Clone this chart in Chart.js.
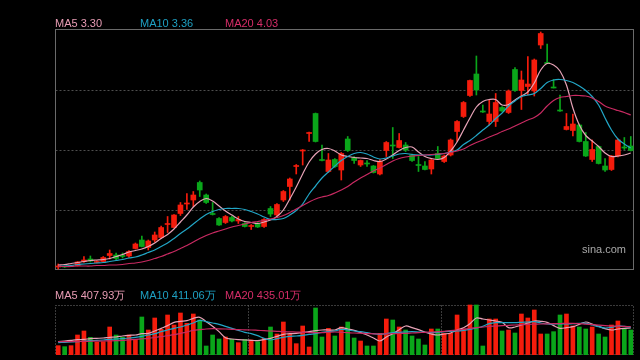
<!DOCTYPE html>
<html>
<head>
<meta charset="utf-8">
<script src="https://cdn.jsdelivr.net/npm/chart.js@4.4.1/dist/chart.umd.min.js"></script>
<style>
html,body{margin:0;padding:0;background:#000;}
#wrap{position:relative;width:640px;height:360px;background:#000;overflow:hidden;}
canvas{position:absolute;left:0;top:0;}
.lbl{position:absolute;font-family:"Liberation Sans",Arial,sans-serif;font-size:11px;line-height:11px;white-space:nowrap;}
</style>
</head>
<body>
<div id="wrap">
<canvas id="kChart" width="640" height="360"></canvas>
<div class="lbl" style="left:55px;top:18px;color:#e89cb4">MA5 3.30</div>
<div class="lbl" style="left:140px;top:18px;color:#1ea0c2">MA10 3.36</div>
<div class="lbl" style="left:225px;top:18px;color:#d62d68">MA20 4.03</div>
<div class="lbl" style="left:55px;top:290px;color:#e89cb4">MA5 407.93万</div>
<div class="lbl" style="left:140px;top:290px;color:#1ea0c2">MA10 411.06万</div>
<div class="lbl" style="left:225px;top:290px;color:#d62d68">MA20 435.01万</div>
<div class="lbl" style="left:582px;top:244px;color:#a8a8a8">sina.com</div>
</div>
<script>
// daily candles (price), oldest first
var open = [0.96,0.97,0.98,0.99,1.07,1.12,1.05,1.07,1.19,1.20,
  1.19,1.18,1.33,1.50,1.35,1.50,1.55,1.81,1.75,2.03,
  2.22,2.30,2.65,2.40,2.03,1.93,1.85,1.95,1.88,1.83,
  1.77,1.83,1.77,2.13,2.00,2.30,2.57,2.97,3.28,3.63,
  4.03,3.11,2.87,3.11,2.90,3.52,3.15,3.00,3.04,2.98,
  2.82,3.29,3.40,3.35,3.40,3.20,3.01,2.98,2.92,3.23,
  3.07,3.20,3.67,3.97,4.39,4.82,4.08,3.87,3.87,4.15,
  4.05,4.91,4.49,4.57,4.48,5.40,5.05,4.56,4.10,3.71,
  3.69,3.80,3.47,3.11,3.37,2.98,2.91,3.18,3.36,3.38];
var close = [0.98,0.96,0.99,1.06,1.10,1.08,1.07,1.15,1.23,1.13,
  1.17,1.27,1.42,1.37,1.48,1.60,1.75,1.83,2.00,2.20,
  2.24,2.40,2.50,2.25,2.01,1.80,1.97,1.88,1.91,1.77,
  1.79,1.76,1.91,2.02,2.21,2.47,2.72,2.99,3.30,3.65,
  3.47,3.09,3.10,2.97,3.23,3.29,3.09,3.09,3.02,2.85,
  3.07,3.45,3.38,3.49,3.30,3.09,2.99,2.91,3.10,3.13,
  3.18,3.50,3.87,4.25,4.69,4.50,4.06,4.02,4.25,4.08,
  4.48,4.49,4.70,4.62,5.10,5.63,5.03,4.54,4.08,3.77,
  3.82,3.47,3.18,3.31,3.03,2.90,3.18,3.50,3.34,3.29];
var high = [1.02,0.98,1.00,1.07,1.17,1.18,1.09,1.17,1.30,1.24,
  1.24,1.29,1.44,1.58,1.50,1.66,1.78,1.97,2.01,2.25,
  2.43,2.47,2.68,2.42,2.25,1.95,1.99,1.98,1.97,1.85,
  1.81,1.85,1.93,2.17,2.23,2.49,2.74,3.01,3.31,3.66,
  4.04,3.40,3.23,3.13,3.25,3.57,3.17,3.10,3.09,2.99,
  3.11,3.47,3.75,3.63,3.45,3.22,3.17,3.07,3.12,3.37,
  3.20,3.52,3.89,4.27,4.70,5.18,4.20,4.30,4.43,4.17,
  4.50,4.95,4.88,5.17,5.12,5.66,5.42,4.71,4.40,4.03,
  4.02,3.82,3.65,3.50,3.38,3.13,3.19,3.52,3.55,3.57];
var low = [0.92,0.95,0.97,0.98,1.05,1.06,1.04,1.06,1.12,1.10,
  1.14,1.15,1.32,1.36,1.30,1.46,1.53,1.65,1.74,1.99,
  2.11,2.17,2.37,2.23,2.00,1.79,1.83,1.86,1.83,1.76,
  1.71,1.75,1.75,1.97,1.98,2.27,2.30,2.82,3.00,3.47,
  3.46,3.08,2.85,2.95,2.70,3.27,3.03,2.97,2.97,2.84,
  2.80,3.17,3.13,3.34,3.27,3.07,2.87,2.90,2.82,3.12,
  3.05,3.18,3.47,3.95,4.37,4.40,4.05,3.80,3.77,4.07,
  4.03,4.47,4.11,4.40,4.38,5.33,5.03,4.54,4.07,3.70,
  3.58,3.46,3.17,3.07,3.02,2.87,2.89,3.16,3.31,3.28];

var ma5 = [1.00,1.01,1.03,1.05,1.07,1.09,1.10,1.11,1.13,1.17,
  1.21,1.26,1.29,1.32,1.37,1.44,1.53,1.61,1.72,1.86,
  2.00,2.16,2.27,2.33,2.28,2.18,2.08,2.00,1.92,1.87,
  1.85,1.83,1.86,1.90,1.97,2.10,2.32,2.56,2.82,3.06,
  3.22,3.31,3.33,3.28,3.20,3.17,3.15,3.14,3.13,3.09,
  3.07,3.12,3.20,3.29,3.35,3.36,3.26,3.17,3.13,3.11,
  3.15,3.28,3.46,3.70,3.94,4.16,4.27,4.31,4.31,4.20,
  4.21,4.30,4.38,4.46,4.64,4.90,5.03,5.00,4.88,4.60,
  4.14,3.80,3.59,3.48,3.37,3.24,3.17,3.18,3.20,3.24];
var ma10 = [0.97,0.98,0.99,1.01,1.02,1.03,1.04,1.05,1.07,1.09,
  1.11,1.14,1.16,1.20,1.25,1.30,1.37,1.44,1.53,1.63,
  1.72,1.82,1.92,2.01,2.07,2.11,2.13,2.13,2.13,2.11,
  2.07,2.02,1.96,1.91,1.91,1.93,2.00,2.09,2.22,2.42,
  2.58,2.74,2.86,2.98,3.09,3.17,3.23,3.25,3.22,3.16,
  3.12,3.14,3.18,3.22,3.23,3.21,3.20,3.20,3.20,3.21,
  3.23,3.26,3.30,3.41,3.49,3.59,3.70,3.80,3.93,4.04,
  4.18,4.28,4.37,4.40,4.43,4.53,4.65,4.70,4.71,4.69,
  4.65,4.58,4.49,4.37,4.20,3.94,3.70,3.52,3.42,3.34];
var ma20 = [0.97,0.97,0.97,0.98,0.98,0.98,0.99,0.99,1.00,1.00,
  1.01,1.03,1.04,1.06,1.09,1.13,1.17,1.22,1.27,1.33,
  1.39,1.46,1.53,1.59,1.64,1.68,1.72,1.76,1.79,1.82,
  1.85,1.87,1.89,1.92,1.95,1.99,2.05,2.12,2.19,2.26,
  2.32,2.36,2.39,2.44,2.50,2.57,2.66,2.74,2.81,2.88,
  2.94,3.01,3.08,3.13,3.16,3.18,3.19,3.20,3.21,3.22,
  3.23,3.25,3.28,3.32,3.39,3.45,3.50,3.56,3.61,3.67,
  3.72,3.78,3.84,3.90,3.95,4.04,4.18,4.29,4.35,4.37,
  4.39,4.39,4.38,4.34,4.27,4.18,4.13,4.09,4.05,4.00];

// volume in 万 shares
var volume = [140,125,140,300,360,265,190,200,420,300,
  265,300,235,570,375,555,385,600,450,630,
  475,615,525,135,300,240,270,235,185,235,
  225,200,250,420,315,495,315,170,435,120,
  705,270,400,285,420,495,255,210,135,135,
  325,540,525,420,375,285,240,150,390,390,
  325,325,600,390,750,750,135,540,540,360,
  375,330,615,555,675,315,315,350,600,615,
  435,420,390,420,315,270,450,510,390,375];
var vma5 = [200,210,220,230,235,245,250,255,265,270,
  285,295,300,320,325,360,400,440,490,505,
  515,550,565,500,430,350,260,240,230,225,
  220,215,230,250,280,310,320,325,340,350,
  365,375,375,375,410,390,370,335,300,255,
  210,270,320,380,435,410,380,345,315,300,
  315,330,375,410,470,555,540,525,510,490,
  410,420,450,480,510,505,490,440,400,410,
  425,460,495,465,430,395,375,390,400,405];
var vma10 = [185,190,195,200,210,215,220,225,235,240,
  245,255,265,280,300,320,350,375,400,420,
  450,480,520,500,480,460,430,400,370,340,
  320,290,250,225,245,265,280,285,295,310,
  320,340,350,360,385,375,360,350,335,320,
  310,320,335,340,345,350,345,340,335,340,
  350,355,360,370,385,405,430,470,485,485,
  485,485,490,495,500,480,465,465,465,465,
  470,475,475,450,425,405,415,435,430,415];
var vma20 = [200,200,202,204,205,206,208,210,212,215,
  220,228,235,242,250,262,275,290,305,325,
  345,370,380,390,395,393,390,385,380,378,
  375,370,365,360,355,350,347,344,340,337,
  335,335,340,345,340,335,330,327,322,318,
  315,318,320,323,325,330,335,340,345,350,
  355,365,375,385,400,410,420,430,435,440,
  445,450,455,460,462,465,468,470,472,474,
  475,470,462,455,447,440,435,432,428,425];

var priceGrid = [2.1, 3.3, 4.5];
var pricePanel = [0.9, 5.7];
var volPanel = [0, 750];
var monthStarts = [30, 60];

var days = open.map(function (v, i) { return 'd' + (i + 1); });

var UP = '#f51c0c', DOWN = '#0aa61a';
var candleColor = open.map(function (o, i) { return close[i] >= o ? UP : DOWN; });

var framePlugin = {
  id: 'frames',
  beforeDatasetsDraw: function (chart) {
    var ctx = chart.ctx, ca = chart.chartArea;
    var y = chart.scales.y, yv = chart.scales.yv, x = chart.scales.x;
    var L = Math.round(ca.left) + 0.5, R = Math.round(ca.right) - 0.5;
    ctx.save();
    ctx.lineWidth = 1;
    // price grid
    ctx.strokeStyle = '#4e4e4e';
    ctx.setLineDash([2, 2]);
    priceGrid.forEach(function (p) {
      var py = Math.round(y.getPixelForValue(p)) + 0.5;
      ctx.beginPath(); ctx.moveTo(L, py); ctx.lineTo(R, py); ctx.stroke();
    });
    // price frame
    ctx.setLineDash([]);
    ctx.strokeStyle = '#6a6a6a';
    var pt = Math.round(y.getPixelForValue(pricePanel[1])) - 0.5;
    var pb = Math.round(y.getPixelForValue(pricePanel[0])) - 0.5;
    ctx.strokeRect(L, pt, R - L, pb - pt);
    // volume frame
    ctx.strokeStyle = '#777';
    ctx.setLineDash([1, 2]);
    var vt = Math.round(yv.getPixelForValue(volPanel[1])) + 0.5;
    var vb = Math.round(yv.getPixelForValue(volPanel[0])) - 0.5;
    ctx.strokeRect(L, vt, R - L, vb - vt);
    monthStarts.forEach(function (m) {
      var mx = Math.round((x.getPixelForValue(m - 1) + x.getPixelForValue(m)) / 2) + 0.5;
      ctx.beginPath(); ctx.moveTo(mx, vt); ctx.lineTo(mx, vb); ctx.stroke();
    });
    ctx.restore();
  }
};

function maLine(data, color, axis) {
  return {
    type: 'line', data: data, yAxisID: axis, borderColor: color,
    borderWidth: 1.2, pointRadius: 0, tension: 0.35, fill: false, order: 0
  };
}

var ctx = document.getElementById('kChart').getContext('2d');
var chart = new Chart(ctx, {
  type: 'bar',
  data: {
    labels: days,
    datasets: [
      {
        data: low.map(function (l, i) { return [l, high[i]]; }),
        yAxisID: 'y', backgroundColor: candleColor,
        barThickness: 1, grouped: false, order: 3
      },
      {
        data: open.map(function (o, i) { return [o, close[i]]; }),
        yAxisID: 'y', backgroundColor: candleColor,
        barThickness: 5, grouped: false, order: 2
      },
      {
        data: volume,
        yAxisID: 'yv', backgroundColor: candleColor,
        barThickness: 4, grouped: false, order: 2
      },
      maLine(ma20, '#c92a62', 'y'),
      maLine(ma10, '#22a6c6', 'y'),
      maLine(ma5, '#e6a2b6', 'y'),
      maLine(vma20, '#c92a62', 'yv'),
      maLine(vma10, '#22a6c6', 'yv'),
      maLine(vma5, '#e6a2b6', 'yv')
    ]
  },
  options: {
    responsive: false,
    animation: false,
    devicePixelRatio: 1,
    layout: { padding: { left: 55, right: 6, top: 30, bottom: 5 } },
    plugins: { legend: { display: false }, tooltip: { enabled: false } },
    scales: {
      x: { display: false, offset: true },
      y: { display: false, min: -0.8, max: 5.7 },
      yv: { display: false, min: 0, max: 4875 }
    }
  },
  plugins: [framePlugin]
});
</script>
</body>
</html>
